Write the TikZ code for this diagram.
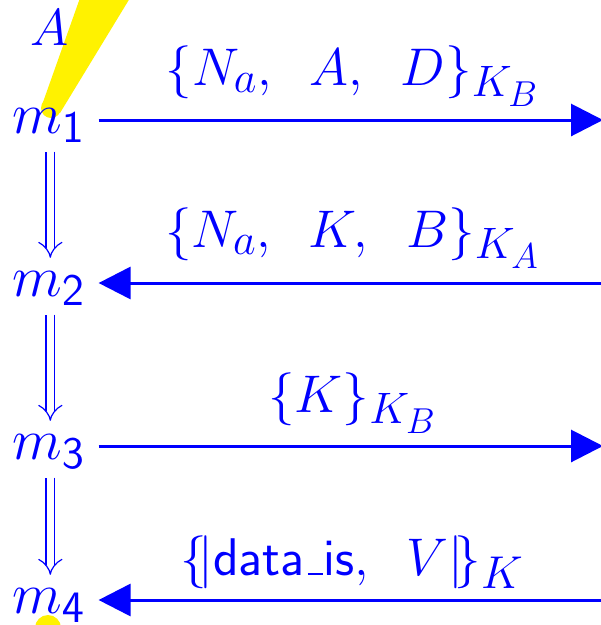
\documentclass[tikz,border=0pt]{standalone}
\usetikzlibrary{arrows.meta}
\DeclareFontShape{OML}{cmm}{m}{it}{<->cmmi12}{}
\DeclareFontShape{OMS}{cmsy}{m}{n}{<->cmsy10}{}
\DeclareFontShape{OMX}{cmex}{m}{n}{<->cmex10}{}
\DeclareFontShape{OT1}{cmss}{m}{n}{<->cmss12}{}
\DeclareFontShape{OT1}{cmr}{m}{n}{<->cmr12}{}
\DeclareMathSizes{53}{53}{44}{36}
\DeclareMathSizes{58}{58}{45}{32}
\DeclareMathSizes{52}{52}{38}{28}
\DeclareMathSizes{46}{46}{33}{23}
\newcommand\fsz[1]{\fontsize{#1}{#1}\selectfont}
\newcommand\usc{\kern0.06em\vbox{\hrule width .28em height .04em}\kern0.02em}
\begin{document}
\begin{tikzpicture}[x=1pt,y=-1pt,
  lbl/.style={text=blue, inner sep=0pt, font=\fsz{53}, anchor=base},
  state/.style={text=blue, inner sep=0pt, font=\fsz{58}, anchor=base west},
  msg/.style={draw=blue, line width=3pt, -{Triangle[length=32pt,width=32pt]}},
  dbl/.style={draw=blue, double=white, line width=1.2pt, double distance=7.5pt, -{Implies[length=13pt,width=32pt]}}]
\useasboundingbox (0,0) rectangle (601,625);
\clip (0,0) rectangle (601,625);
% yellow shapes
\fill[yellow] (80,-2) -- (130,-2) -- (60,113) -- (42,105) -- cycle;
\fill[yellow] (51,108) circle (10);
\fill[yellow] (48,628) circle (13);
% states
\node[text=blue, inner sep=0pt, font=\fsz{52}, anchor=base west] (a) at (30,45) {$A$};
\node[state] (m1) at (12,133) {$m_{\mathsf{1}}$};
\node[state] (m2) at (12,296) {$m_{\mathsf{2}}$};
\node[state] (m3) at (12,459) {$m_{\mathsf{3}}$};
\node[state] (m4) at (12,613) {$m_{\mathsf{4}}$};
% free ends
\coordinate (r1) at (603,120);
\coordinate (r2) at (603,283);
\coordinate (r3) at (603,446);
\coordinate (r4) at (603,600);
% messages
\draw[msg] ([xshift=14pt]m1.east |- r1) -- (r1);
\draw[msg] (r2) -- ([xshift=14pt]m2.east |- r2);
\draw[msg] ([xshift=14pt]m3.east |- r3) -- (r3);
\draw[msg] (r4) -- ([xshift=14pt]m4.east |- r4);
% labels
\node[lbl] (l1) at (352,85) {$\{N_a,\hspace{0.55em}A,\hspace{0.55em}D\}_{K_B}$};
\node[lbl] (l2) at (352,247) {$\{N_a,\hspace{0.55em}K,\hspace{0.55em}B\}_{K_A}$};
\node[lbl] (l3) at (352,412) {$\{K\}_{K_B}$};
\node[lbl] (l4) at (352,575) {$\{\!|\textsf{data\usc is},\hspace{0.55em}V|\!\}_{\mbox{\fsz{46}$K$}}$};
% transitions
\draw[dbl] ([xshift=2pt,yshift=-9pt]m1.south) -- ([xshift=2pt,yshift=13pt]m2.north);
\draw[dbl] ([xshift=2pt,yshift=-9pt]m2.south) -- ([xshift=2pt,yshift=13pt]m3.north);
\draw[dbl] ([xshift=2pt,yshift=-9pt]m3.south) -- ([xshift=2pt,yshift=13pt]m4.north);
\end{tikzpicture}
\end{document}
